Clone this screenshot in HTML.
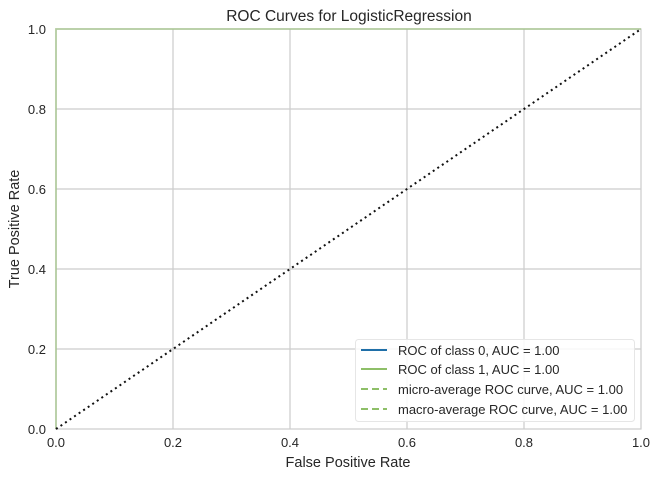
<!DOCTYPE html>
<html><head><style>body{margin:0;background:#fff}svg{display:block}</style></head><body>
<svg width="660" height="479" xmlns="http://www.w3.org/2000/svg" font-family="Liberation Sans, sans-serif" fill="#262626">
<rect width="660" height="479" fill="#fff"/>
<g stroke="#cccccc" stroke-width="1.2">
<line x1="173" y1="29" x2="173" y2="429"/><line x1="290" y1="29" x2="290" y2="429"/><line x1="407" y1="29" x2="407" y2="429"/><line x1="524" y1="29" x2="524" y2="429"/>
<line x1="56" y1="109" x2="641" y2="109"/><line x1="56" y1="189" x2="641" y2="189"/><line x1="56" y1="269" x2="641" y2="269"/><line x1="56" y1="349" x2="641" y2="349"/>
<rect x="56" y="29" width="585" height="400" fill="none"/>
</g>
<polyline points="56,429 56,29 641,29" fill="none" stroke="#8ebf68" stroke-width="2" opacity="0.45"/>
<line x1="56" y1="429" x2="641" y2="29" stroke="#111" stroke-width="2" stroke-dasharray="2,3.5"/>
<text x="349" y="21" font-size="15.5" text-anchor="middle">ROC Curves for LogisticRegression</text>
<g font-size="13" text-anchor="middle">
<text x="56" y="447">0.0</text><text x="173" y="447">0.2</text><text x="290" y="447">0.4</text><text x="407" y="447">0.6</text><text x="524" y="447">0.8</text><text x="641" y="447">1.0</text>
</g>
<g font-size="13" text-anchor="end">
<text x="46" y="34">1.0</text><text x="46" y="114">0.8</text><text x="46" y="194">0.6</text><text x="46" y="274">0.4</text><text x="46" y="354">0.2</text><text x="46" y="434">0.0</text>
</g>
<text x="348" y="467" font-size="14.5" text-anchor="middle">False Positive Rate</text>
<text transform="translate(19,229) rotate(-90)" font-size="14.5" text-anchor="middle">True Positive Rate</text>
<rect x="355.5" y="339.5" width="279" height="82" rx="3" fill="#fff" fill-opacity="0.85" stroke="#e6e6e6"/>
<line x1="361" y1="350" x2="387" y2="350" stroke="#1f6fa8" stroke-width="2"/>
<line x1="361" y1="369" x2="387" y2="369" stroke="#8ebf68" stroke-width="2"/>
<line x1="361" y1="389" x2="387" y2="389" stroke="#8ebf68" stroke-width="2" stroke-dasharray="7,4"/>
<line x1="361" y1="409" x2="387" y2="409" stroke="#8ebf68" stroke-width="2" stroke-dasharray="7,4"/>
<g font-size="13">
<text x="398" y="355">ROC of class 0, AUC = 1.00</text>
<text x="398" y="374">ROC of class 1, AUC = 1.00</text>
<text x="398" y="394">micro-average ROC curve, AUC = 1.00</text>
<text x="398" y="414">macro-average ROC curve, AUC = 1.00</text>
</g>
</svg>
</body></html>
